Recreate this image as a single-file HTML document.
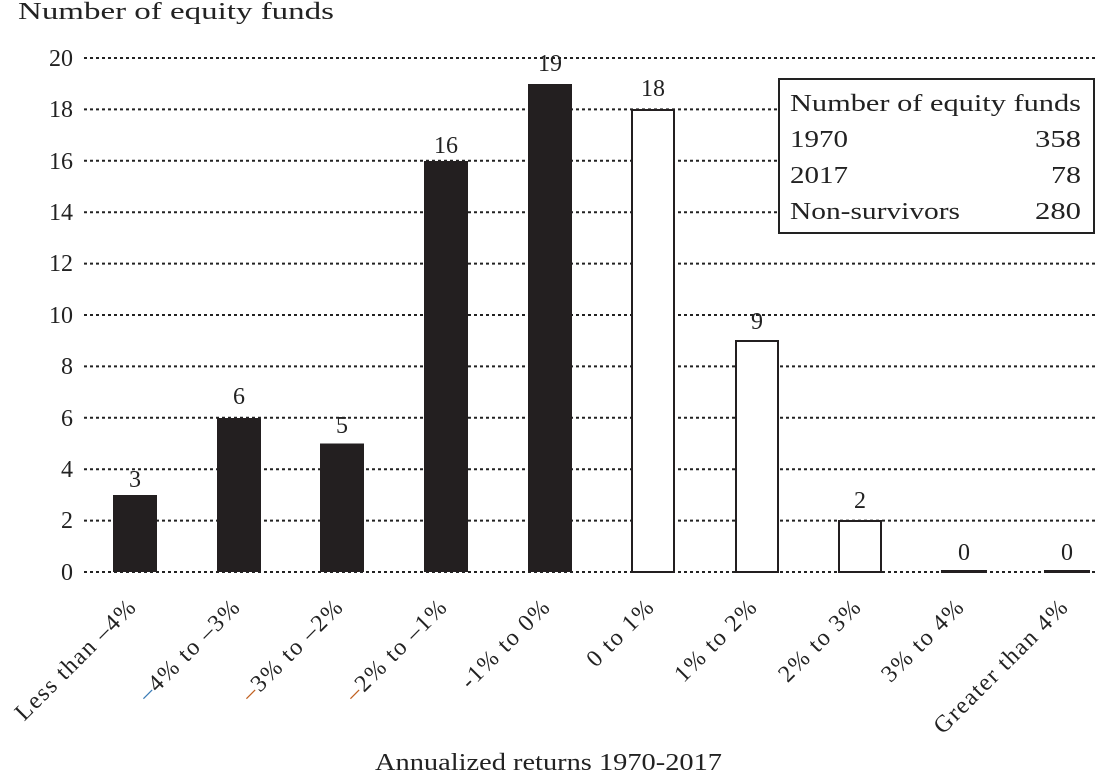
<!DOCTYPE html>
<html><head><meta charset="utf-8"><style>
html,body{margin:0;padding:0;background:#fff;}
svg{display:block;font-family:"Liberation Serif",serif;}
</style></head><body>
<svg width="1116" height="772" viewBox="0 0 1116 772" xmlns="http://www.w3.org/2000/svg">
<text x="18" y="19" font-size="24" fill="#222" textLength="316" lengthAdjust="spacingAndGlyphs">Number of equity funds</text>
<g stroke="#222" stroke-width="2" stroke-dasharray="3,3">
<line x1="84" y1="58" x2="1098" y2="58"/>
<line x1="84" y1="109.4" x2="1098" y2="109.4"/>
<line x1="84" y1="160.8" x2="1098" y2="160.8"/>
<line x1="84" y1="212.2" x2="1098" y2="212.2"/>
<line x1="84" y1="263.6" x2="1098" y2="263.6"/>
<line x1="84" y1="315" x2="1098" y2="315"/>
<line x1="84" y1="366.4" x2="1098" y2="366.4"/>
<line x1="84" y1="417.8" x2="1098" y2="417.8"/>
<line x1="84" y1="469.2" x2="1098" y2="469.2"/>
<line x1="84" y1="520.6" x2="1098" y2="520.6"/>
<line x1="84" y1="572" x2="1098" y2="572"/>
</g>
<g font-size="24" fill="#222" text-anchor="end">
<text x="73" y="66">20</text><text x="73" y="117">18</text><text x="73" y="169">16</text>
<text x="73" y="220">14</text><text x="73" y="271">12</text><text x="73" y="323">10</text>
<text x="73" y="374">8</text><text x="73" y="426">6</text><text x="73" y="477">4</text>
<text x="73" y="528">2</text><text x="73" y="580">0</text>
</g>
<g fill="#231f20">
<rect x="113" y="495" width="44" height="77"/>
<rect x="217" y="418" width="44" height="154"/>
<rect x="320" y="443.5" width="44" height="128.5"/>
<rect x="424" y="161" width="44" height="411"/>
<rect x="528" y="84" width="44" height="488"/>
</g>
<g fill="#fff" stroke="#231f20" stroke-width="2">
<rect x="632" y="110" width="42" height="462"/>
<rect x="736" y="341" width="42" height="231"/>
<rect x="839" y="521" width="42" height="51"/>
<rect x="942" y="571" width="44" height="1"/>
<rect x="1045" y="571" width="44" height="1"/>
</g>
<g font-size="24" fill="#222" text-anchor="middle">
<text x="135" y="487">3</text><text x="239" y="404">6</text><text x="342" y="433">5</text>
<text x="446" y="153">16</text><text x="550" y="71">19</text><text x="653" y="96">18</text>
<text x="757" y="329">9</text><text x="860" y="508">2</text><text x="964" y="560">0</text><text x="1067" y="560">0</text>
</g>
<rect x="779" y="79" width="315" height="154" fill="#fff" stroke="#222" stroke-width="2"/>
<g font-size="24" fill="#222">
<text x="790" y="111" textLength="291" lengthAdjust="spacingAndGlyphs">Number of equity funds</text>
<text x="790" y="147" textLength="58" lengthAdjust="spacingAndGlyphs">1970</text><text x="1035" y="147" textLength="46" lengthAdjust="spacingAndGlyphs">358</text>
<text x="790" y="183" textLength="58" lengthAdjust="spacingAndGlyphs">2017</text><text x="1051" y="183" textLength="30" lengthAdjust="spacingAndGlyphs">78</text>
<text x="790" y="219" textLength="170" lengthAdjust="spacingAndGlyphs">Non-survivors</text><text x="1035" y="219" textLength="46" lengthAdjust="spacingAndGlyphs">280</text>
</g>
<g font-size="24" fill="#222" text-anchor="end" letter-spacing="1.5">
<text transform="translate(138,608) rotate(-45)">Less than –4%</text>
<text transform="translate(242,608) rotate(-45)"><tspan fill="#3a7bb5">–</tspan>4% to –3%</text>
<text transform="translate(345,608) rotate(-45)"><tspan fill="#c06020">–</tspan>3% to –2%</text>
<text transform="translate(449,608) rotate(-45)"><tspan fill="#c06020">–</tspan>2% to –1%</text>
<text transform="translate(552,608) rotate(-45)">-1% to 0%</text>
<text transform="translate(656,608) rotate(-45)">0 to 1%</text>
<text transform="translate(759,608) rotate(-45)">1% to 2%</text>
<text transform="translate(863,608) rotate(-45)">2% to 3%</text>
<text transform="translate(966,608) rotate(-45)">3% to 4%</text>
<text transform="translate(1070,608) rotate(-45)">Greater than 4%</text>
</g>
<text x="375" y="770" font-size="24" fill="#222" textLength="347" lengthAdjust="spacingAndGlyphs">Annualized returns 1970-2017</text>
</svg>
</body></html>
